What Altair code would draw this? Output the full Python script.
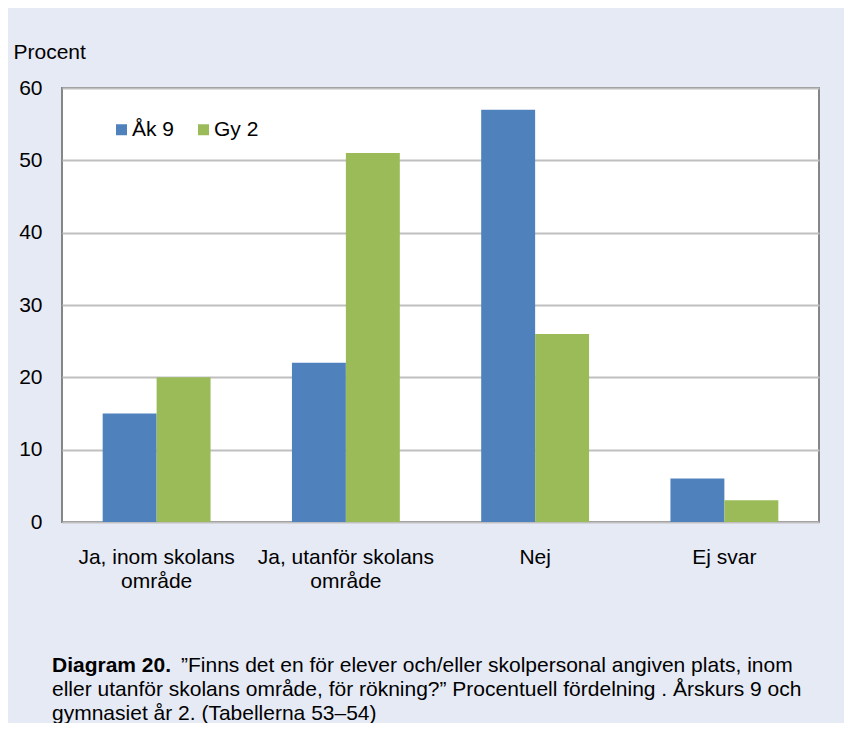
import altair as alt
import pandas as pd

categories = ["Ja, inom skolans|område", "Ja, utanför skolans|område", "Nej", "Ej svar"]
series = ["Åk 9", "Gy 2"]
ak9 = [15, 22, 57, 6]
gy2 = [20, 51, 26, 3]
colors = ["#4F81BD", "#9BBB59"]
y_ticks = [0, 10, 20, 30, 40, 50, 60]
y_title = "Procent"
caption_bold = "Diagram 20."
caption_line1 = "”Finns det en för elever och/eller skolpersonal angiven plats, inom"
caption_rest = ["eller utanför skolans område, för rökning?” Procentuell fördelning . Årskurs 9 och",
                "gymnasiet år 2. (Tabellerna 53–54)"]

rows = []
for c, a, g in zip(categories, ak9, gy2):
    rows.append({"kategori": c, "grupp": series[0], "procent": a})
    rows.append({"kategori": c, "grupp": series[1], "procent": g})
df = pd.DataFrame(rows)

FONT = "'Liberation Sans', Arial, sans-serif"
FS = 21

bars = alt.Chart(df).mark_bar().encode(
    x=alt.X("kategori:N", sort=categories, title=None,
            scale=alt.Scale(paddingInner=0.43, paddingOuter=0.215),
            axis=alt.Axis(labelAngle=0, labelExpr="split(datum.value, '|')",
                          labelFontSize=FS, labelFont=FONT, labelColor="#000000",
                          labelPadding=24, labelLineHeight=24, domain=False, ticks=False)),
    xOffset=alt.XOffset("grupp:N", sort=series, scale=alt.Scale(paddingInner=0, paddingOuter=0)),
    y=alt.Y("procent:Q", scale=alt.Scale(domain=[0, 60]),
            axis=alt.Axis(values=y_ticks, title=y_title, titleAngle=0, titleX=-49, titleY=-36,
                          titleAlign="left", titleBaseline="middle", titleFontSize=FS,
                          titleFont=FONT, titleFontWeight="normal", titleColor="#000000",
                          labelFontSize=FS, labelFont=FONT, labelColor="#000000",
                          labelPadding=20, domain=False, ticks=False,
                          gridColor="#BFBFBF", gridWidth=2)),
    color=alt.Color("grupp:N", sort=series, scale=alt.Scale(domain=series, range=colors),
                    legend=alt.Legend(title=None, orient="none", legendX=49, legendY=31,
                                      direction="horizontal", symbolType="square",
                                      symbolSize=121, symbolStrokeWidth=0, labelFontSize=FS,
                                      labelFont=FONT, labelColor="#000000", columnPadding=18,
                                      labelOffset=0)),
)

one = alt.Data(values=[{}])
cap_bold = alt.Chart(one).mark_text(
    align="left", baseline="middle", fontSize=FS, font=FONT, fontWeight="bold", color="#000000"
).encode(x=alt.value(-10), y=alt.value(578), text=alt.value(caption_bold))
cap_l1 = alt.Chart(one).mark_text(
    align="left", baseline="middle", fontSize=FS, font=FONT, color="#000000"
).encode(x=alt.value(119), y=alt.value(578), text=alt.value(caption_line1))
cap_rest = alt.Chart(one).mark_text(
    align="left", baseline="middle", fontSize=FS, font=FONT, color="#000000", lineHeight=24
).encode(x=alt.value(-10), y=alt.value(602), text=alt.value(caption_rest))

chart = alt.layer(bars, cap_bold, cap_l1, cap_rest).properties(
    width=757, height=434,
    autosize=alt.AutoSizeParams(type="none"),
    padding={"left": 54, "top": 80, "right": 25, "bottom": 201},
    background="#E6EAF5",
).configure_view(stroke="#868686", strokeWidth=2, fill="#FFFFFF")

chart.save("out.html", embed_options={"renderer": "svg", "actions": False})
